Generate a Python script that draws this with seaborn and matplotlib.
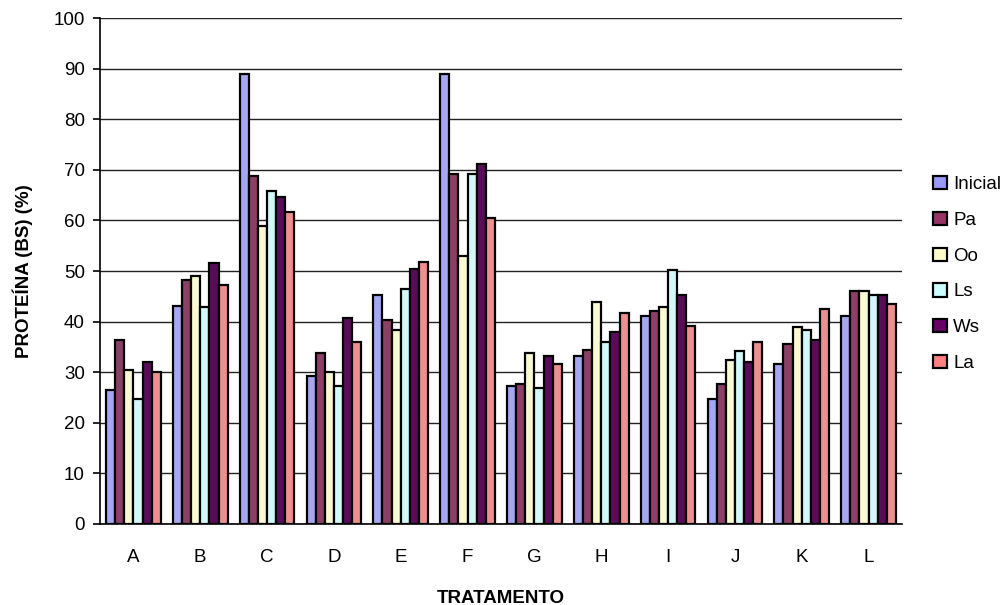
import numpy as np
import pandas as pd
import seaborn as sns
import matplotlib.pyplot as plt
from matplotlib.patches import Patch

# Treatments and protein content (% dry basis) for each processing series
tratamentos = ["A", "B", "C", "D", "E", "F", "G", "H", "I", "J", "K", "L"]
series = ["Inicial", "Pa", "Oo", "Ls", "Ws", "La"]

inicial = [26.5, 43.1, 89.0, 29.3, 45.2, 89.0, 27.2, 33.2, 41.1, 24.8, 31.7, 41.1]
pa      = [36.4, 48.3, 68.8, 33.7, 40.3, 69.1, 27.6, 34.4, 42.0, 27.7, 35.6, 46.0]
oo      = [30.4, 49.1, 58.9, 30.0, 38.3, 53.0, 33.7, 43.9, 42.8, 32.4, 38.9, 46.0]
ls      = [24.8, 42.8, 65.8, 27.2, 46.4, 69.1, 26.8, 35.9, 50.1, 34.1, 38.4, 45.2]
ws      = [32.0, 51.5, 64.6, 40.7, 50.4, 71.2, 33.2, 37.9, 45.2, 32.1, 36.4, 45.2]
la      = [30.0, 47.2, 61.6, 35.9, 51.8, 60.4, 31.7, 41.7, 39.2, 35.9, 42.5, 43.5]

colores = ["#9999FF", "#993366", "#FFFFCC", "#CCFFFF", "#660066", "#FF8080"]

valores = [inicial, pa, oo, ls, ws, la]
df = pd.DataFrame({
    "Tratamento": np.tile(tratamentos, len(series)),
    "Serie": np.repeat(series, len(tratamentos)),
    "Proteina": np.concatenate(valores),
})

sns.set_theme(style="white")
plt.rcParams["font.family"] = ["Liberation Sans", "DejaVu Sans"]
plt.rcParams.update({
    "text.color": "black",
    "axes.labelcolor": "black",
    "xtick.color": "black",
    "ytick.color": "black",
})

fs = 13.5
fig = plt.figure(figsize=(10.03, 6.05), dpi=100)
ax = fig.add_axes([100 / 1003, 1 - 524 / 605, 802 / 1003, 506 / 605])

sns.barplot(data=df, x="Tratamento", y="Proteina", hue="Serie",
            order=tratamentos, hue_order=series, palette=colores,
            width=0.82, edgecolor="black", linewidth=1.6,
            legend=False, ax=ax, zorder=3)

ax.set_ylim(0, 100)
ax.set_xlim(-0.5, len(tratamentos) - 0.5)
ax.set_yticks(np.arange(0, 101, 10))
ax.yaxis.grid(True, color="#222222", linewidth=1.0, zorder=0)
ax.xaxis.grid(False)

for side in ["top", "right"]:
    ax.spines[side].set_visible(False)
for side in ["left", "bottom"]:
    ax.spines[side].set_color("black")
    ax.spines[side].set_linewidth(1.2)
    ax.spines[side].set_zorder(4)

# category separators as minor ticks below the axis
ax.set_xticks(np.arange(-0.5, len(tratamentos), 1.0), minor=True)
ax.tick_params(axis="x", which="major", length=0, pad=18, labelsize=fs, colors="black")
ax.tick_params(axis="x", which="minor", length=8, width=1.2, color="black", direction="out")
ax.tick_params(axis="y", which="major", length=5, width=1.2, color="black",
               direction="out", left=True, labelsize=fs, labelcolor="black", pad=6)

ax.set_xlabel("TRATAMENTO", fontsize=fs, fontweight="bold", labelpad=17)
ax.set_ylabel("PROTEÍNA (BS) (%)", fontsize=fs, fontweight="bold", labelpad=15)

handles = [Patch(facecolor=c, edgecolor="black", linewidth=1.6, label=s)
           for c, s in zip(colores, series)]
fig.legend(handles=handles, loc="center left", bbox_to_anchor=(926 / 1003, 1 - 274 / 605),
           frameon=False, fontsize=fs, handlelength=0.7, handleheight=0.7,
           handletextpad=0.35, labelspacing=1.0, borderaxespad=0)

fig.savefig("out.png", dpi=100, facecolor="white")
